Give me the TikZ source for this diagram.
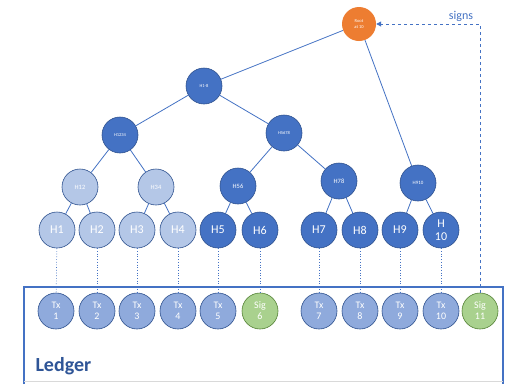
\documentclass[tikz,border=0pt]{standalone}
\usepackage{fontspec}
\setmainfont{Carlito}
\usetikzlibrary{arrows.meta}
\definecolor{dblue}{HTML}{4472C4}
\definecolor{dborder}{HTML}{2F528F}
\definecolor{lblue}{HTML}{B4C7E7}
\definecolor{txblue}{HTML}{8FAADC}
\definecolor{sggreen}{HTML}{A9D18E}
\definecolor{sgborder}{HTML}{548235}
\definecolor{orng}{HTML}{ED7D31}
\definecolor{ledgertext}{HTML}{2F5597}
\tikzset{
  hnode/.style={circle, minimum size=36pt, inner sep=0pt, text=white, align=center, draw=dborder, line width=0.6pt},
  darkh/.style={hnode, fill=dblue},
  lighth/.style={hnode, fill=lblue},
  txnode/.style={hnode, fill=txblue, font=\fontsize{10}{11}\selectfont},
  signode/.style={hnode, fill=sggreen, draw=sgborder, font=\fontsize{10}{11}\selectfont},
  rootnode/.style={circle, minimum size=34pt, inner sep=0pt, text=white, align=center, fill=orng, font=\fontsize{4.5}{6}\selectfont},
  edge/.style={draw=dblue, line width=0.8pt},
  leafline/.style={draw=dblue, line width=0.7pt, dotted},
  leaffont/.style={font=\fontsize{12}{13}\selectfont},
  midfont/.style={font=\fontsize{6.5}{7}\selectfont},
  tinyfont/.style={font=\fontsize{4.5}{5}\selectfont},
}
\begin{document}
\begin{tikzpicture}[x=1pt,y=-1pt]
\useasboundingbox (0,0) rectangle (506,384);
\fill[white] (0,0) rectangle (506,384);
% ledger box
\draw[dblue, line width=1.8pt] (24,384) -- (24,287) -- (503,287) -- (503,384);
\draw[gray!30, line width=0.8pt] (24,381) -- (503,381);
\node[anchor=west, font=\fontsize{20}{22}\selectfont\bfseries, text=ledgertext] (ledger) at (32,366) {Ledger};
% tree nodes
\node[rootnode] (root) at (359,24) {Root\\at 10};
\node[darkh, tinyfont] (h18) at (204,86) {H1-8};
\node[darkh, tinyfont] (h1234) at (120,135) {H1234};
\node[darkh, tinyfont] (h5678) at (284,133) {H5678};
\node[lighth, midfont] (h12) at (80,187) {H12};
\node[lighth, midfont] (h34) at (156,187) {H34};
\node[darkh, midfont] (h56) at (238,186) {H56};
\node[darkh, midfont] (h78) at (339,181) {H78};
\node[darkh, font=\fontsize{5}{6}\selectfont] (h910) at (418,183) {H910};
\node[lighth, leaffont] (h1) at (57,230) {H1};
\node[lighth, leaffont] (h2) at (97,230) {H2};
\node[lighth, leaffont] (h3) at (137,230) {H3};
\node[lighth, leaffont] (h4) at (178,230) {H4};
\node[darkh, leaffont] (h5) at (218,230) {H5};
\node[darkh, leaffont] (h6) at (260,230) {H6};
\node[darkh, leaffont] (h7) at (319,230) {H7};
\node[darkh, leaffont] (h8) at (360,230) {H8};
\node[darkh, leaffont] (h9) at (400,230) {H9};
\node[darkh, leaffont] (h10) at (441,230) {H\\10};
% ledger row
\node[txnode] (t1) at (56,311) {Tx\\1};
\node[txnode] (t2) at (97,311) {Tx\\2};
\node[txnode] (t3) at (137,311) {Tx\\3};
\node[txnode] (t4) at (178,311) {Tx\\4};
\node[txnode] (t5) at (218,311) {Tx\\5};
\node[signode] (s6) at (260,311) {Sig\\6};
\node[txnode] (t7) at (319,311) {Tx\\7};
\node[txnode] (t8) at (360,311) {Tx\\8};
\node[txnode] (t9) at (400,311) {Tx\\9};
\node[txnode] (t10) at (441,311) {Tx\\10};
\node[signode] (s11) at (480,311) {Sig\\11};
% edges
\draw[edge] (root) -- (h18);
\draw[edge] (root) -- (h910);
\draw[edge] (h18) -- (h1234);
\draw[edge] (h18) -- (h5678);
\draw[edge] (h1234) -- (h12);
\draw[edge] (h1234) -- (h34);
\draw[edge] (h5678) -- (h56);
\draw[edge] (h5678) -- (h78);
\draw[edge] (h12) -- (h1);
\draw[edge] (h12) -- (h2);
\draw[edge] (h34) -- (h3);
\draw[edge] (h34) -- (h4);
\draw[edge] (h56) -- (h5);
\draw[edge] (h56) -- (h6);
\draw[edge] (h78) -- (h7);
\draw[edge] (h78) -- (h8);
\draw[edge] (h910) -- (h9);
\draw[edge] (h910) -- (h10);
% dotted leaf links
\draw[leafline] (h1) -- (t1);
\draw[leafline] (h2) -- (t2);
\draw[leafline] (h3) -- (t3);
\draw[leafline] (h4) -- (t4);
\draw[leafline] (h5) -- (t5);
\draw[leafline] (h6) -- (s6);
\draw[leafline] (h7) -- (t7);
\draw[leafline] (h8) -- (t8);
\draw[leafline] (h9) -- (t9);
\draw[leafline] (h10) -- (t10);
% signs arrow
\coordinate (corner) at (480,24);
\draw[dblue, line width=0.9pt, dashed, -{Triangle[length=5pt,width=5pt]}] (s11.north) -- (corner) -- (root.east);
\node[text=dblue, font=\fontsize{12}{13}\selectfont] (signs) at (461,16) {signs};
\end{tikzpicture}
\end{document}
